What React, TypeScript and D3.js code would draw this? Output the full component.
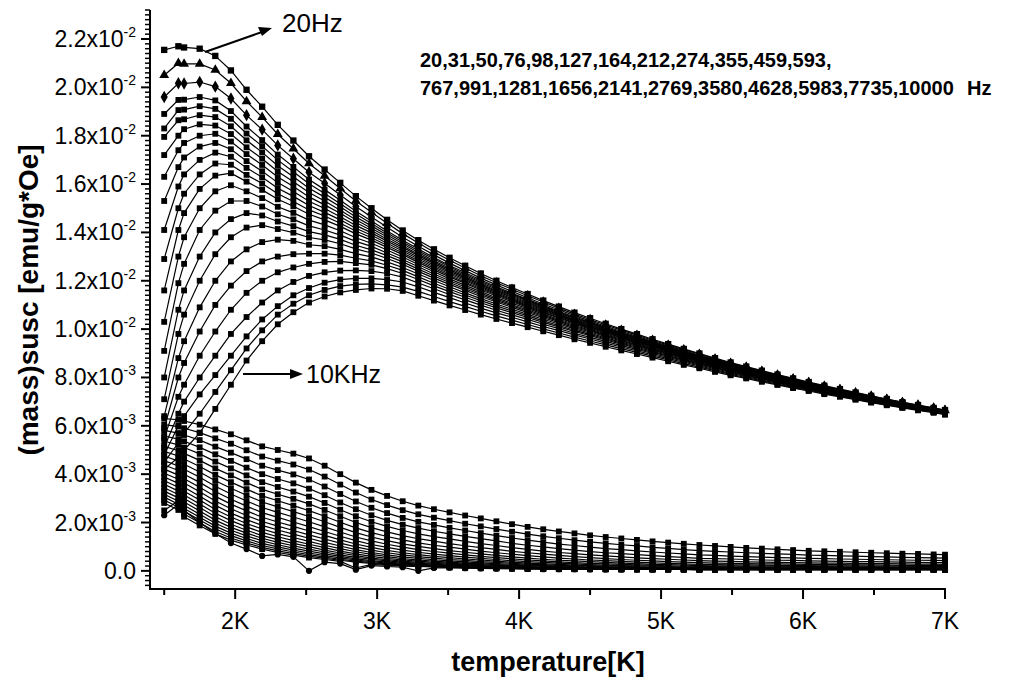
import React from 'react';
import * as d3 from 'd3';

// Measurement temperatures (K)
const temperatureK = [
  1.50, 1.60, 1.64, 1.75, 1.86, 1.97, 2.08, 2.19, 2.30, 2.41,
  2.52, 2.63, 2.74, 2.85, 2.96, 3.07, 3.18, 3.29, 3.40, 3.51,
  3.62, 3.73, 3.84, 3.95, 4.06, 4.17, 4.28, 4.39, 4.50, 4.61,
  4.72, 4.83, 4.94, 5.05, 5.16, 5.27, 5.38, 5.49, 5.60, 5.71,
  5.82, 5.93, 6.04, 6.15, 6.26, 6.37, 6.48, 6.59, 6.70, 6.81,
  6.92, 7.00,
];

const frequenciesHz = [20, 31, 50, 76, 98, 127, 164, 212, 274, 355, 459, 593, 767, 991, 1281, 1656, 2141, 2769, 3580, 4628, 5983, 7735, 10000];

// In-phase mass susceptibility, units of 1e-3 emu/(g*Oe)
const re20 = [21.55, 21.70, 21.65, 21.60, 21.30, 20.70, 19.90, 19.20, 18.45, 17.80, 17.15, 16.60, 16.05, 15.50, 15.00, 14.52, 14.08, 13.68, 13.30, 12.95, 12.62, 12.30, 12.00, 11.72, 11.45, 11.18, 10.93, 10.68, 10.45, 10.22, 10.00, 9.79, 9.58, 9.38, 9.18, 8.99, 8.80, 8.62, 8.45, 8.28, 8.12, 7.96, 7.81, 7.66, 7.52, 7.38, 7.24, 7.11, 6.98, 6.86, 6.74, 6.65];
const re31 = [20.50, 21.00, 20.97, 20.97, 20.72, 20.17, 19.42, 18.77, 18.06, 17.46, 16.85, 16.34, 15.82, 15.30, 14.83, 14.38, 13.95, 13.56, 13.19, 12.85, 12.53, 12.21, 11.92, 11.65, 11.38, 11.12, 10.87, 10.62, 10.40, 10.17, 9.96, 9.75, 9.54, 9.34, 9.15, 8.96, 8.77, 8.59, 8.43, 8.26, 8.10, 7.94, 7.79, 7.64, 7.50, 7.36, 7.23, 7.10, 6.97, 6.85, 6.73, 6.64];
const re50 = [19.60, 20.17, 20.16, 20.22, 20.03, 19.54, 18.85, 18.25, 17.60, 17.05, 16.49, 16.03, 15.55, 15.07, 14.64, 14.21, 13.80, 13.43, 13.07, 12.73, 12.42, 12.11, 11.83, 11.56, 11.30, 11.04, 10.80, 10.56, 10.34, 10.12, 9.90, 9.70, 9.50, 9.30, 9.11, 8.92, 8.74, 8.56, 8.40, 8.23, 8.07, 7.92, 7.77, 7.62, 7.48, 7.35, 7.21, 7.08, 6.95, 6.84, 6.72, 6.63];
const re76 = [18.90, 19.48, 19.49, 19.60, 19.46, 19.02, 18.38, 17.82, 17.22, 16.71, 16.19, 15.77, 15.33, 14.88, 14.47, 14.06, 13.68, 13.31, 12.96, 12.63, 12.33, 12.03, 11.75, 11.48, 11.23, 10.98, 10.74, 10.50, 10.29, 10.07, 9.86, 9.66, 9.46, 9.27, 9.07, 8.89, 8.71, 8.54, 8.37, 8.21, 8.05, 7.90, 7.75, 7.60, 7.47, 7.33, 7.20, 7.07, 6.94, 6.82, 6.71, 6.62];
const re98 = [18.30, 19.06, 19.08, 19.22, 19.11, 18.70, 18.09, 17.57, 16.99, 16.51, 16.01, 15.61, 15.19, 14.76, 14.37, 13.98, 13.60, 13.24, 12.90, 12.58, 12.27, 11.98, 11.70, 11.44, 11.19, 10.94, 10.71, 10.47, 10.26, 10.04, 9.83, 9.63, 9.44, 9.25, 9.05, 8.87, 8.69, 8.52, 8.36, 8.19, 8.04, 7.88, 7.74, 7.59, 7.46, 7.32, 7.19, 7.06, 6.93, 6.82, 6.70, 6.61];
const re127 = [17.95, 18.64, 18.68, 18.85, 18.77, 18.39, 17.81, 17.31, 16.76, 16.30, 15.83, 15.46, 15.06, 14.64, 14.27, 13.89, 13.53, 13.17, 12.83, 12.52, 12.22, 11.93, 11.65, 11.40, 11.15, 10.90, 10.67, 10.44, 10.23, 10.01, 9.81, 9.61, 9.41, 9.22, 9.03, 8.86, 8.67, 8.50, 8.34, 8.18, 8.03, 7.87, 7.73, 7.58, 7.45, 7.31, 7.18, 7.05, 6.93, 6.81, 6.70, 6.61];
const re164 = [17.20, 18.00, 18.27, 18.47, 18.42, 18.07, 17.52, 17.05, 16.52, 16.10, 15.65, 15.30, 14.92, 14.52, 14.17, 13.81, 13.45, 13.10, 12.77, 12.46, 12.16, 11.87, 11.60, 11.35, 11.11, 10.86, 10.63, 10.40, 10.19, 9.98, 9.78, 9.58, 9.39, 9.20, 9.01, 8.84, 8.66, 8.49, 8.33, 8.16, 8.01, 7.86, 7.72, 7.57, 7.44, 7.30, 7.17, 7.04, 6.92, 6.80, 6.69, 6.60];
const re212 = [16.30, 17.40, 17.70, 18.00, 18.08, 17.76, 17.24, 16.79, 16.29, 15.90, 15.47, 15.14, 14.79, 14.41, 14.08, 13.72, 13.38, 13.04, 12.71, 12.40, 12.11, 11.82, 11.56, 11.31, 11.07, 10.82, 10.60, 10.37, 10.16, 9.95, 9.75, 9.56, 9.37, 9.18, 9.00, 8.82, 8.64, 8.47, 8.31, 8.15, 8.00, 7.85, 7.71, 7.56, 7.43, 7.30, 7.16, 7.04, 6.91, 6.80, 6.68, 6.60];
const re274 = [15.30, 16.70, 17.10, 17.55, 17.70, 17.44, 16.95, 16.53, 16.06, 15.69, 15.29, 14.99, 14.65, 14.29, 13.98, 13.64, 13.30, 12.97, 12.64, 12.34, 12.05, 11.77, 11.51, 11.26, 11.03, 10.79, 10.56, 10.34, 10.13, 9.93, 9.73, 9.54, 9.34, 9.16, 8.98, 8.80, 8.62, 8.46, 8.30, 8.14, 7.99, 7.84, 7.70, 7.55, 7.42, 7.29, 7.15, 7.03, 6.91, 6.79, 6.68, 6.59];
const re355 = [14.10, 15.90, 16.40, 17.00, 17.30, 17.13, 16.67, 16.28, 15.83, 15.49, 15.11, 14.83, 14.52, 14.17, 13.88, 13.55, 13.23, 12.90, 12.58, 12.28, 12.00, 11.72, 11.46, 11.22, 10.98, 10.75, 10.53, 10.31, 10.10, 9.90, 9.70, 9.51, 9.32, 9.14, 8.96, 8.78, 8.61, 8.44, 8.28, 8.12, 7.97, 7.82, 7.68, 7.54, 7.41, 7.28, 7.14, 7.02, 6.90, 6.79, 6.67, 6.59];
const re459 = [12.90, 15.00, 15.60, 16.40, 16.85, 16.80, 16.38, 16.02, 15.60, 15.28, 14.93, 14.68, 14.38, 14.06, 13.78, 13.47, 13.15, 12.83, 12.52, 12.22, 11.94, 11.67, 11.42, 11.18, 10.94, 10.71, 10.49, 10.27, 10.07, 9.87, 9.67, 9.49, 9.30, 9.12, 8.94, 8.76, 8.59, 8.42, 8.27, 8.11, 7.96, 7.81, 7.67, 7.53, 7.40, 7.27, 7.14, 7.01, 6.89, 6.78, 6.67, 6.58];
const re593 = [11.60, 14.10, 14.80, 15.80, 16.35, 16.45, 16.10, 15.76, 15.37, 15.08, 14.75, 14.52, 14.25, 13.94, 13.68, 13.38, 13.08, 12.76, 12.45, 12.16, 11.89, 11.62, 11.37, 11.13, 10.90, 10.67, 10.46, 10.24, 10.04, 9.84, 9.65, 9.46, 9.28, 9.10, 8.92, 8.75, 8.57, 8.41, 8.25, 8.10, 7.95, 7.80, 7.66, 7.52, 7.39, 7.26, 7.13, 7.01, 6.88, 6.77, 6.66, 6.57];
const re767 = [10.30, 13.00, 13.80, 15.00, 15.70, 15.95, 15.70, 15.42, 15.06, 14.81, 14.51, 14.31, 14.07, 13.78, 13.55, 13.27, 12.98, 12.67, 12.37, 12.08, 11.81, 11.55, 11.30, 11.07, 10.85, 10.62, 10.41, 10.20, 10.00, 9.80, 9.61, 9.43, 9.25, 9.07, 8.89, 8.72, 8.55, 8.39, 8.23, 8.08, 7.93, 7.78, 7.65, 7.51, 7.38, 7.25, 7.12, 7.00, 6.87, 6.76, 6.65, 6.57];
const re991 = [9.10, 11.90, 12.70, 14.10, 14.90, 15.30, 15.30, 15.07, 14.75, 14.54, 14.27, 14.10, 13.89, 13.63, 13.42, 13.15, 12.88, 12.58, 12.28, 12.00, 11.74, 11.48, 11.24, 11.01, 10.79, 10.57, 10.36, 10.15, 9.96, 9.76, 9.58, 9.40, 9.22, 9.04, 8.86, 8.70, 8.53, 8.37, 8.21, 8.06, 7.91, 7.77, 7.63, 7.49, 7.37, 7.24, 7.11, 6.99, 6.86, 6.75, 6.64, 6.56];
const re1281 = [8.00, 10.80, 11.60, 13.00, 14.00, 14.55, 14.80, 14.70, 14.45, 14.26, 14.03, 13.90, 13.71, 13.47, 13.28, 13.04, 12.78, 12.48, 12.20, 11.93, 11.67, 11.42, 11.18, 10.96, 10.74, 10.52, 10.32, 10.11, 9.92, 9.73, 9.54, 9.36, 9.18, 9.01, 8.84, 8.67, 8.50, 8.34, 8.20, 8.04, 7.90, 7.75, 7.62, 7.48, 7.35, 7.22, 7.09, 6.97, 6.86, 6.75, 6.64, 6.55];
const re1656 = [7.10, 9.80, 10.60, 12.00, 13.10, 13.80, 14.20, 14.30, 14.14, 13.99, 13.79, 13.69, 13.53, 13.32, 13.15, 12.92, 12.68, 12.39, 12.11, 11.85, 11.60, 11.35, 11.12, 10.90, 10.68, 10.47, 10.27, 10.06, 9.88, 9.69, 9.51, 9.33, 9.15, 8.98, 8.81, 8.65, 8.48, 8.32, 8.18, 8.02, 7.88, 7.74, 7.60, 7.46, 7.34, 7.21, 7.08, 6.96, 6.85, 6.74, 6.63, 6.54];
const re2141 = [6.40, 8.80, 9.50, 10.90, 12.00, 12.80, 13.30, 13.60, 13.70, 13.65, 13.49, 13.43, 13.30, 13.12, 12.99, 12.78, 12.55, 12.28, 12.01, 11.75, 11.50, 11.26, 11.04, 10.82, 10.61, 10.41, 10.21, 10.01, 9.83, 9.64, 9.46, 9.29, 9.12, 8.95, 8.78, 8.62, 8.45, 8.30, 8.15, 8.00, 7.86, 7.72, 7.58, 7.45, 7.32, 7.20, 7.07, 6.95, 6.83, 6.73, 6.62, 6.53];
const re2769 = [5.90, 8.00, 8.60, 9.90, 11.00, 11.80, 12.40, 12.80, 13.00, 13.10, 13.12, 13.12, 13.06, 12.93, 12.82, 12.64, 12.43, 12.16, 11.90, 11.65, 11.41, 11.18, 10.96, 10.75, 10.55, 10.34, 10.15, 9.95, 9.78, 9.59, 9.42, 9.25, 9.08, 8.91, 8.74, 8.59, 8.42, 8.27, 8.13, 7.98, 7.84, 7.70, 7.57, 7.43, 7.31, 7.18, 7.06, 6.94, 6.82, 6.71, 6.61, 6.52];
const re3580 = [5.50, 7.20, 7.70, 8.90, 9.90, 10.80, 11.50, 12.00, 12.35, 12.55, 12.70, 12.78, 12.80, 12.73, 12.66, 12.50, 12.30, 12.05, 11.79, 11.55, 11.32, 11.09, 10.88, 10.68, 10.48, 10.28, 10.09, 9.90, 9.73, 9.55, 9.38, 9.21, 9.04, 8.88, 8.71, 8.56, 8.40, 8.24, 8.10, 7.95, 7.81, 7.68, 7.55, 7.41, 7.29, 7.17, 7.04, 6.93, 6.81, 6.70, 6.60, 6.52];
const re4628 = [5.10, 6.50, 7.00, 8.00, 8.90, 9.80, 10.50, 11.10, 11.60, 11.95, 12.20, 12.35, 12.42, 12.43, 12.40, 12.30, 12.15, 11.91, 11.67, 11.43, 11.21, 10.99, 10.78, 10.59, 10.40, 10.20, 10.02, 9.83, 9.66, 9.49, 9.32, 9.16, 8.99, 8.83, 8.67, 8.52, 8.36, 8.21, 8.07, 7.93, 7.79, 7.65, 7.53, 7.39, 7.27, 7.15, 7.02, 6.91, 6.80, 6.69, 6.59, 6.50];
const re5983 = [4.80, 6.00, 6.40, 7.30, 8.10, 8.90, 9.70, 10.40, 10.95, 11.40, 11.70, 11.92, 12.05, 12.10, 12.10, 12.05, 11.95, 11.75, 11.52, 11.30, 11.08, 10.87, 10.67, 10.49, 10.30, 10.11, 9.94, 9.76, 9.59, 9.42, 9.26, 9.10, 8.94, 8.78, 8.63, 8.48, 8.32, 8.17, 8.04, 7.89, 7.76, 7.62, 7.50, 7.37, 7.25, 7.13, 7.00, 6.89, 6.78, 6.68, 6.57, 6.49];
const re7735 = [4.50, 5.30, 5.70, 6.50, 7.40, 8.30, 9.20, 9.95, 10.60, 11.05, 11.40, 11.62, 11.78, 11.85, 11.87, 11.83, 11.74, 11.56, 11.35, 11.14, 10.94, 10.74, 10.55, 10.37, 10.19, 10.01, 9.84, 9.67, 9.51, 9.35, 9.19, 9.04, 8.88, 8.73, 8.57, 8.43, 8.28, 8.13, 8.00, 7.86, 7.72, 7.59, 7.47, 7.34, 7.23, 7.10, 6.98, 6.87, 6.76, 6.66, 6.56, 6.48];
const re10000 = [4.20, 4.70, 5.00, 5.70, 6.70, 7.70, 8.70, 9.50, 10.20, 10.70, 11.10, 11.35, 11.52, 11.62, 11.68, 11.67, 11.58, 11.38, 11.18, 10.98, 10.79, 10.60, 10.42, 10.25, 10.08, 9.91, 9.75, 9.58, 9.43, 9.27, 9.12, 8.97, 8.82, 8.67, 8.52, 8.38, 8.23, 8.09, 7.96, 7.82, 7.69, 7.56, 7.44, 7.31, 7.20, 7.08, 6.96, 6.85, 6.74, 6.64, 6.54, 6.46];

// Out-of-phase mass susceptibility, units of 1e-3 emu/(g*Oe)
const im20 = [2.30, 2.75, 2.50, 2.00, 1.55, 1.15, 0.90, 0.62, 0.68, 0.58, 0.00, 0.36, 0.30, 0.05, 0.22, 0.18, 0.15, 0.00, 0.12, 0.13, 0.11, 0.10, 0.09, 0.09, 0.08, 0.07, 0.07, 0.07, 0.06, 0.06, 0.06, 0.06, 0.06, 0.06, 0.06, 0.05, 0.05, 0.05, 0.05, 0.05, 0.05, 0.05, 0.05, 0.05, 0.05, 0.05, 0.05, 0.05, 0.05, 0.05, 0.05, 0.05];
const im31 = [2.50, 2.90, 2.24, 1.88, 1.53, 1.27, 1.07, 0.90, 0.76, 0.65, 0.55, 0.47, 0.39, 0.12, 0.27, 0.23, 0.20, 0.18, 0.16, 0.14, 0.12, 0.11, 0.10, 0.09, 0.08, 0.08, 0.07, 0.07, 0.07, 0.06, 0.06, 0.06, 0.06, 0.06, 0.06, 0.05, 0.05, 0.05, 0.05, 0.05, 0.05, 0.05, 0.05, 0.05, 0.05, 0.05, 0.05, 0.05, 0.05, 0.05, 0.05, 0.05];
const im50 = [2.81, 2.52, 2.35, 1.99, 1.63, 1.36, 1.15, 0.97, 0.83, 0.71, 0.61, 0.52, 0.44, 0.36, 0.31, 0.26, 0.22, 0.20, 0.17, 0.15, 0.14, 0.12, 0.11, 0.10, 0.09, 0.09, 0.08, 0.07, 0.07, 0.07, 0.06, 0.06, 0.06, 0.06, 0.06, 0.05, 0.05, 0.05, 0.05, 0.05, 0.05, 0.05, 0.05, 0.05, 0.05, 0.05, 0.05, 0.05, 0.05, 0.05, 0.05, 0.05];
const im76 = [2.93, 2.63, 2.46, 2.10, 1.74, 1.46, 1.24, 1.05, 0.91, 0.78, 0.67, 0.57, 0.48, 0.40, 0.34, 0.29, 0.25, 0.22, 0.19, 0.17, 0.15, 0.14, 0.12, 0.11, 0.10, 0.09, 0.09, 0.08, 0.08, 0.07, 0.07, 0.06, 0.06, 0.06, 0.06, 0.05, 0.05, 0.05, 0.05, 0.05, 0.05, 0.05, 0.05, 0.05, 0.05, 0.05, 0.05, 0.05, 0.05, 0.05, 0.05, 0.05];
const im98 = [3.05, 2.76, 2.58, 2.22, 1.85, 1.56, 1.34, 1.14, 0.99, 0.86, 0.74, 0.63, 0.54, 0.45, 0.38, 0.32, 0.28, 0.25, 0.22, 0.19, 0.17, 0.15, 0.14, 0.12, 0.11, 0.10, 0.09, 0.09, 0.08, 0.08, 0.07, 0.07, 0.06, 0.06, 0.06, 0.06, 0.06, 0.06, 0.06, 0.06, 0.06, 0.06, 0.06, 0.06, 0.06, 0.06, 0.06, 0.06, 0.06, 0.06, 0.06, 0.06];
const im127 = [3.17, 2.88, 2.71, 2.34, 1.97, 1.68, 1.45, 1.24, 1.08, 0.94, 0.82, 0.70, 0.60, 0.50, 0.42, 0.36, 0.32, 0.28, 0.24, 0.22, 0.19, 0.17, 0.15, 0.14, 0.12, 0.11, 0.10, 0.10, 0.09, 0.08, 0.08, 0.07, 0.07, 0.06, 0.06, 0.06, 0.06, 0.06, 0.06, 0.06, 0.06, 0.06, 0.06, 0.06, 0.06, 0.06, 0.06, 0.06, 0.06, 0.06, 0.06, 0.06];
const im164 = [3.30, 3.02, 2.85, 2.48, 2.10, 1.80, 1.56, 1.35, 1.18, 1.04, 0.90, 0.78, 0.66, 0.56, 0.48, 0.41, 0.36, 0.31, 0.28, 0.24, 0.22, 0.19, 0.17, 0.16, 0.14, 0.13, 0.12, 0.11, 0.10, 0.09, 0.09, 0.08, 0.08, 0.07, 0.07, 0.07, 0.07, 0.07, 0.07, 0.07, 0.07, 0.07, 0.06, 0.06, 0.06, 0.06, 0.06, 0.06, 0.06, 0.06, 0.06, 0.06];
const im212 = [3.44, 3.16, 2.99, 2.62, 2.24, 1.93, 1.68, 1.46, 1.29, 1.14, 1.00, 0.86, 0.74, 0.63, 0.53, 0.46, 0.40, 0.35, 0.31, 0.28, 0.25, 0.22, 0.20, 0.18, 0.16, 0.14, 0.13, 0.12, 0.11, 0.10, 0.10, 0.09, 0.08, 0.08, 0.07, 0.07, 0.07, 0.07, 0.07, 0.07, 0.07, 0.07, 0.07, 0.07, 0.07, 0.07, 0.07, 0.06, 0.06, 0.06, 0.06, 0.06];
const im274 = [3.58, 3.30, 3.14, 2.77, 2.38, 2.08, 1.82, 1.59, 1.41, 1.25, 1.10, 0.96, 0.82, 0.70, 0.60, 0.52, 0.45, 0.40, 0.35, 0.32, 0.28, 0.25, 0.23, 0.20, 0.18, 0.16, 0.15, 0.14, 0.13, 0.12, 0.11, 0.10, 0.09, 0.09, 0.08, 0.08, 0.08, 0.08, 0.08, 0.07, 0.07, 0.07, 0.07, 0.07, 0.07, 0.07, 0.07, 0.07, 0.07, 0.07, 0.07, 0.07];
const im355 = [3.73, 3.46, 3.29, 2.93, 2.54, 2.23, 1.96, 1.73, 1.54, 1.38, 1.22, 1.06, 0.92, 0.79, 0.68, 0.59, 0.51, 0.45, 0.40, 0.36, 0.32, 0.29, 0.26, 0.23, 0.21, 0.19, 0.17, 0.16, 0.14, 0.13, 0.12, 0.11, 0.10, 0.10, 0.09, 0.09, 0.09, 0.08, 0.08, 0.08, 0.08, 0.08, 0.08, 0.08, 0.08, 0.08, 0.08, 0.07, 0.07, 0.07, 0.07, 0.07];
const im459 = [3.88, 3.62, 3.46, 3.09, 2.71, 2.39, 2.12, 1.88, 1.69, 1.52, 1.35, 1.18, 1.03, 0.88, 0.76, 0.66, 0.58, 0.52, 0.46, 0.41, 0.37, 0.33, 0.30, 0.27, 0.24, 0.22, 0.20, 0.18, 0.16, 0.15, 0.14, 0.13, 0.12, 0.11, 0.10, 0.10, 0.10, 0.09, 0.09, 0.09, 0.09, 0.09, 0.09, 0.09, 0.08, 0.08, 0.08, 0.08, 0.08, 0.08, 0.08, 0.08];
const im593 = [4.04, 3.79, 3.63, 3.27, 2.89, 2.57, 2.29, 2.04, 1.85, 1.67, 1.49, 1.32, 1.15, 0.99, 0.86, 0.75, 0.66, 0.59, 0.53, 0.47, 0.43, 0.38, 0.35, 0.31, 0.28, 0.25, 0.23, 0.21, 0.19, 0.17, 0.16, 0.15, 0.14, 0.13, 0.12, 0.11, 0.11, 0.11, 0.10, 0.10, 0.10, 0.10, 0.10, 0.10, 0.10, 0.09, 0.09, 0.09, 0.09, 0.09, 0.09, 0.09];
const im767 = [4.21, 3.96, 3.81, 3.46, 3.08, 2.76, 2.48, 2.22, 2.02, 1.84, 1.65, 1.47, 1.28, 1.11, 0.97, 0.85, 0.75, 0.67, 0.60, 0.55, 0.49, 0.45, 0.40, 0.36, 0.32, 0.29, 0.27, 0.24, 0.22, 0.20, 0.19, 0.17, 0.16, 0.15, 0.14, 0.13, 0.13, 0.12, 0.12, 0.12, 0.12, 0.11, 0.11, 0.11, 0.11, 0.11, 0.10, 0.10, 0.10, 0.10, 0.10, 0.10];
const im991 = [4.38, 4.15, 4.00, 3.66, 3.28, 2.96, 2.68, 2.41, 2.21, 2.02, 1.83, 1.63, 1.43, 1.25, 1.09, 0.97, 0.86, 0.77, 0.69, 0.63, 0.57, 0.52, 0.47, 0.42, 0.38, 0.35, 0.32, 0.29, 0.26, 0.24, 0.22, 0.21, 0.19, 0.18, 0.16, 0.15, 0.15, 0.14, 0.14, 0.14, 0.13, 0.13, 0.13, 0.13, 0.12, 0.12, 0.12, 0.12, 0.12, 0.12, 0.11, 0.11];
const im1281 = [4.56, 4.34, 4.20, 3.87, 3.50, 3.18, 2.89, 2.62, 2.42, 2.23, 2.03, 1.82, 1.61, 1.40, 1.24, 1.10, 0.98, 0.88, 0.80, 0.73, 0.66, 0.60, 0.55, 0.50, 0.45, 0.41, 0.37, 0.34, 0.31, 0.29, 0.27, 0.25, 0.23, 0.21, 0.19, 0.18, 0.18, 0.17, 0.17, 0.16, 0.16, 0.16, 0.15, 0.15, 0.15, 0.14, 0.14, 0.14, 0.14, 0.13, 0.13, 0.13];
const im1656 = [4.75, 4.54, 4.41, 4.09, 3.73, 3.42, 3.13, 2.85, 2.65, 2.45, 2.25, 2.03, 1.80, 1.58, 1.40, 1.25, 1.12, 1.01, 0.92, 0.84, 0.77, 0.70, 0.64, 0.58, 0.53, 0.48, 0.44, 0.41, 0.38, 0.35, 0.32, 0.30, 0.27, 0.26, 0.24, 0.22, 0.21, 0.21, 0.20, 0.20, 0.19, 0.19, 0.18, 0.18, 0.17, 0.17, 0.17, 0.16, 0.16, 0.16, 0.16, 0.15];
const im2141 = [4.94, 4.75, 4.63, 4.32, 3.97, 3.67, 3.38, 3.10, 2.90, 2.70, 2.49, 2.26, 2.01, 1.78, 1.58, 1.42, 1.28, 1.16, 1.06, 0.98, 0.90, 0.82, 0.75, 0.69, 0.63, 0.58, 0.53, 0.49, 0.45, 0.42, 0.39, 0.36, 0.33, 0.31, 0.29, 0.27, 0.26, 0.25, 0.25, 0.24, 0.23, 0.23, 0.22, 0.21, 0.21, 0.21, 0.20, 0.20, 0.19, 0.19, 0.19, 0.18];
const im2769 = [5.15, 4.97, 4.86, 4.57, 4.24, 3.95, 3.65, 3.37, 3.17, 2.98, 2.77, 2.52, 2.26, 2.00, 1.79, 1.61, 1.46, 1.33, 1.23, 1.13, 1.04, 0.96, 0.89, 0.81, 0.75, 0.69, 0.64, 0.59, 0.55, 0.51, 0.47, 0.44, 0.41, 0.38, 0.36, 0.34, 0.32, 0.31, 0.30, 0.29, 0.29, 0.28, 0.27, 0.26, 0.26, 0.25, 0.25, 0.24, 0.23, 0.23, 0.23, 0.22];
const im3580 = [5.36, 5.21, 5.10, 4.84, 4.52, 4.24, 3.95, 3.67, 3.47, 3.28, 3.07, 2.81, 2.53, 2.26, 2.03, 1.84, 1.67, 1.53, 1.42, 1.32, 1.22, 1.13, 1.05, 0.96, 0.89, 0.82, 0.76, 0.71, 0.66, 0.62, 0.58, 0.54, 0.51, 0.48, 0.45, 0.42, 0.40, 0.39, 0.37, 0.36, 0.35, 0.34, 0.33, 0.32, 0.32, 0.31, 0.30, 0.30, 0.29, 0.28, 0.28, 0.27];
const im4628 = [5.58, 5.45, 5.36, 5.11, 4.82, 4.55, 4.27, 4.00, 3.80, 3.62, 3.40, 3.13, 2.83, 2.55, 2.30, 2.09, 1.91, 1.77, 1.64, 1.53, 1.43, 1.33, 1.24, 1.14, 1.06, 0.99, 0.92, 0.86, 0.80, 0.75, 0.71, 0.67, 0.63, 0.59, 0.56, 0.52, 0.51, 0.49, 0.47, 0.45, 0.44, 0.43, 0.41, 0.40, 0.39, 0.38, 0.38, 0.37, 0.36, 0.35, 0.34, 0.34];
const im5983 = [5.81, 5.70, 5.62, 5.41, 5.14, 4.89, 4.62, 4.35, 4.17, 3.99, 3.78, 3.49, 3.18, 2.87, 2.61, 2.39, 2.19, 2.03, 1.90, 1.78, 1.67, 1.56, 1.46, 1.36, 1.27, 1.19, 1.11, 1.05, 0.98, 0.92, 0.88, 0.83, 0.78, 0.74, 0.70, 0.66, 0.64, 0.61, 0.59, 0.57, 0.55, 0.54, 0.52, 0.51, 0.49, 0.48, 0.47, 0.46, 0.45, 0.44, 0.43, 0.42];
const im7735 = [6.05, 5.97, 5.90, 5.72, 5.48, 5.26, 4.99, 4.73, 4.56, 4.40, 4.19, 3.90, 3.57, 3.24, 2.95, 2.72, 2.51, 2.34, 2.20, 2.08, 1.95, 1.84, 1.73, 1.62, 1.52, 1.43, 1.35, 1.27, 1.20, 1.14, 1.08, 1.03, 0.97, 0.93, 0.88, 0.84, 0.81, 0.78, 0.75, 0.72, 0.70, 0.68, 0.65, 0.64, 0.62, 0.61, 0.59, 0.58, 0.56, 0.55, 0.54, 0.53];
const im10000 = [6.30, 6.25, 6.20, 6.05, 5.85, 5.65, 5.40, 5.15, 5.00, 4.85, 4.65, 4.35, 4.00, 3.65, 3.35, 3.10, 2.88, 2.70, 2.55, 2.42, 2.29, 2.17, 2.05, 1.93, 1.82, 1.72, 1.63, 1.55, 1.47, 1.40, 1.34, 1.28, 1.22, 1.17, 1.12, 1.07, 1.03, 0.99, 0.95, 0.92, 0.89, 0.86, 0.83, 0.81, 0.79, 0.77, 0.75, 0.73, 0.71, 0.70, 0.68, 0.67];

const inPhase = [re20, re31, re50, re76, re98, re127, re164, re212, re274, re355, re459, re593, re767, re991, re1281, re1656, re2141, re2769, re3580, re4628, re5983, re7735, re10000];
const outOfPhase = [im20, im31, im50, im76, im98, im127, im164, im212, im274, im355, im459, im593, im767, im991, im1281, im1656, im2141, im2769, im3580, im4628, im5983, im7735, im10000];

// Axis ticks (y in units of 1e-3)
const yTickValues = [0, 2, 4, 6, 8, 10, 12, 14, 16, 18, 20, 22];
const yTickMantissa = ['0.0', '2.0', '4.0', '6.0', '8.0', '1.0', '1.2', '1.4', '1.6', '1.8', '2.0', '2.2'];
const yTickExponent = ['', '-3', '-3', '-3', '-3', '-2', '-2', '-2', '-2', '-2', '-2', '-2'];
const xTickValues = [2, 3, 4, 5, 6, 7];
const xTickLabels = ['2K', '3K', '4K', '5K', '6K', '7K'];
const xMinorValues = [1.5, 2.5, 3.5, 4.5, 5.5, 6.5];

const FONT = "'Liberation Sans', Arial, Helvetica, sans-serif";

export default function App() {
  const W = 1017;
  const H = 679;
  const x = d3.scaleLinear().domain([1.4, 7.0]).range([150, 945]);
  const y = d3.scaleLinear().domain([-0.75, 23.2]).range([589, 10]);

  const line = d3
    .line<number>()
    .x((_, i) => x(temperatureK[i]))
    .y((v) => y(v));

  const square = d3.symbol().type(d3.symbolSquare).size(34)() as string;
  const squareBig = d3.symbol().type(d3.symbolSquare).size(40)() as string;
  const triangle = d3.symbol().type(d3.symbolTriangle).size(42)() as string;
  const diamond = d3.symbol().type(d3.symbolDiamond).size(44)() as string;
  const circle = d3.symbol().type(d3.symbolCircle).size(30)() as string;

  const reSymbol = (k: number) => (k === 0 ? squareBig : k === 1 ? triangle : k === 2 ? diamond : square);
  const imSymbol = (k: number) => (k === 0 ? circle : square);

  const minorY = d3.range(-3, 117).filter((n) => n % 10 !== 0).map((n) => n * 0.2);

  const drawSeries = (series: number[][], sym: (k: number) => string, key: string) =>
    series.map((vals, k) => (
      <g key={`${key}${frequenciesHz[k]}`}>
        <path d={line(vals) as string} fill="none" stroke="#000" strokeWidth={1.2} />
        {vals.map((v, i) => (
          <path key={i} d={sym(k)} transform={`translate(${x(temperatureK[i])},${y(v)})`} fill="#000" />
        ))}
      </g>
    ));

  return (
    <svg
      width={W}
      height={H}
      viewBox={`0 0 ${W} ${H}`}
      style={{ position: 'absolute', left: 0, top: 0, background: '#fff' }}
      fontFamily={FONT}
    >
      <rect x={0} y={0} width={W} height={H} fill="#fff" />

      {/* data */}
      {drawSeries(outOfPhase, imSymbol, 'im')}
      {drawSeries(inPhase, reSymbol, 're')}

      {/* y axis */}
      <line x1={150} x2={150} y1={10} y2={590} stroke="#000" strokeWidth={2} />
      {minorY.map((v) => (
        <line key={`my${v.toFixed(1)}`} x1={145} x2={150} y1={y(v)} y2={y(v)} stroke="#000" strokeWidth={1.5} />
      ))}
      {yTickValues.map((v, i) => (
        <g key={`yt${v}`}>
          <line x1={141} x2={150} y1={y(v)} y2={y(v)} stroke="#000" strokeWidth={2} />
          <text x={136} y={y(v) + 8} textAnchor="end" fontSize={23} fill="#000">
            {yTickMantissa[i]}
            {yTickExponent[i] ? 'x10' : ''}
            {yTickExponent[i] ? (
              <tspan dy={-10} fontSize={14}>
                {yTickExponent[i]}
              </tspan>
            ) : null}
          </text>
        </g>
      ))}

      {/* x axis */}
      <line x1={149} x2={946} y1={589} y2={589} stroke="#000" strokeWidth={2} />
      {xMinorValues.map((v) => (
        <line key={`mx${v}`} x1={x(v)} x2={x(v)} y1={589} y2={595} stroke="#000" strokeWidth={2} />
      ))}
      {xTickValues.map((v, i) => (
        <g key={`xt${v}`}>
          <line x1={x(v)} x2={x(v)} y1={589} y2={599} stroke="#000" strokeWidth={2} />
          <text x={x(v)} y={629} textAnchor="middle" fontSize={23} fill="#000">
            {xTickLabels[i]}
          </text>
        </g>
      ))}

      {/* axis titles */}
      <text x={548} y={671} textAnchor="middle" fontSize={27} fontWeight="bold" fill="#000">
        temperature[K]
      </text>
      <text
        transform="translate(38,300) rotate(-90)"
        textAnchor="middle"
        fontSize={28}
        fontWeight="bold"
        fill="#000"
      >
        (mass)susc [emu/g*Oe]
      </text>

      {/* annotations */}
      <line x1={205} y1={52} x2={262} y2={32} stroke="#000" strokeWidth={2} />
      <path d="M272,28 L258,27 L262,36 Z" fill="#000" />
      <text x={282} y={32} fontSize={26} fill="#000">
        20Hz
      </text>

      <line x1={243} y1={374} x2={292} y2={374} stroke="#000" strokeWidth={2} />
      <path d="M303,374 L290,369 L290,379 Z" fill="#000" />
      <text x={306} y={383} fontSize={25} fill="#000">
        10KHz
      </text>

      <text x={420} y={67} fontSize={20} fontWeight="bold" fill="#000">
        {frequenciesHz.slice(0, 12).join(',') + ','}
      </text>
      <text x={420} y={95} fontSize={20} fontWeight="bold" fill="#000">
        {frequenciesHz.slice(12).join(',')}
      </text>
      <text x={967} y={95} fontSize={20} fontWeight="bold" fill="#000">
        Hz
      </text>
    </svg>
  );
}
